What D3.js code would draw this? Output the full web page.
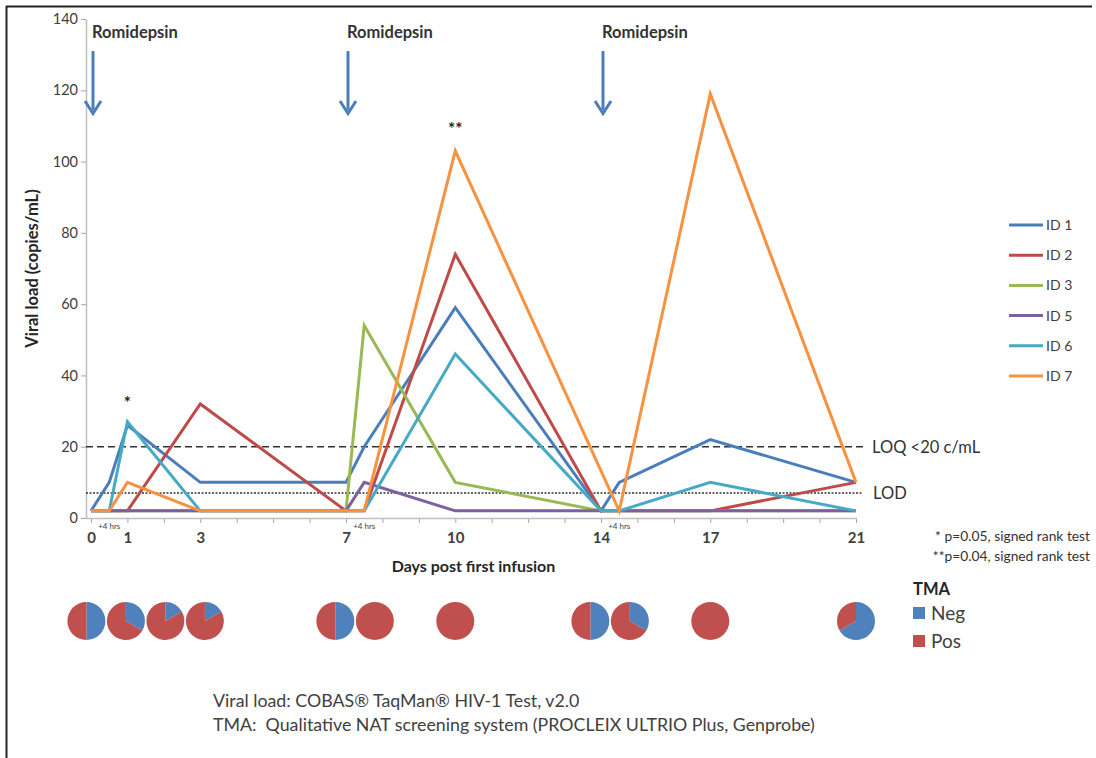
<!DOCTYPE html>
<html>
<head>
<meta charset="utf-8">
<script src="https://cdn.jsdelivr.net/npm/d3@7"></script>
<style>
  html, body { margin: 0; padding: 0; background: #fff; }
  svg { display: block; font-family: Lato, "Open Sans", sans-serif; }
</style>
</head>
<body>
<svg id="chart" width="1096" height="758"></svg>
<script>
// ---- data ----
// Sampling timepoints in days (the +4 hrs draws sit half a day after each infusion)
const days = [0, 0.5, 1, 3, 7, 7.5, 10, 14, 14.5, 17, 21];
const dayTicks = [0, 1, 3, 7, 10, 14, 17, 21];
const yTicks = [0, 20, 40, 60, 80, 100, 120, 140];
const infusionDays = [0, 7, 14];
const plus4Days = [0.5, 7.5, 14.5];

const seriesNames = ["ID 1", "ID 2", "ID 3", "ID 5", "ID 6", "ID 7"];
const id1 = [2, 10, 26, 10, 10, 20, 59, 2, 10, 22, 10];
const id2 = [2, 2, 2, 32, 2, 2, 74, 2, 2, 2, 10];
const id3 = [2, 2, 2, 2, 2, 54, 10, 2, 2, 2, 2];
const id5 = [2, 2, 2, 2, 2, 10, 2, 2, 2, 2, 2];
const id6 = [2, 2, 27, 2, 2, 2, 46, 2, 2, 10, 2];
const id7 = [2, 2, 10, 2, 2, 2, 103, null, 2, 119, 10];

const loq = 20;
const lod = 7;

// TMA result counts per timepoint (six participants)
const tmaNeg = [3, 2, 1, 1, 3, 0, 0, 3, 2, 0, 4];
const tmaPos = [3, 4, 5, 5, 3, 6, 6, 3, 4, 6, 2];

// significance marks
const sigDays = [1, 10];
const sigLabels = ["*", "**"];
const sigValues = [33, 110];

// ---- styling ----
const lineColors = ["#4a7ebb", "#be4b48", "#98b954", "#7d60a0", "#46aac5", "#f69240"];
const negColor = "#4f81bd", posColor = "#c0504d";
const textColor = "#404040";

const svg = d3.select("#chart");

// outer frame (top and left rules)
svg.append("line").attr("x1", 6).attr("x2", 1092).attr("y1", 6.5).attr("y2", 6.5)
  .attr("stroke", "#222").attr("stroke-width", 2);
svg.append("line").attr("x1", 6.5).attr("x2", 6.5).attr("y1", 6).attr("y2", 758)
  .attr("stroke", "#222").attr("stroke-width", 2);

const x = d3.scaleLinear().domain([0, 21]).range([91, 856]);
const y = d3.scaleLinear().domain([0, 140]).range([518, 19]);
const axisX = x(0) - 5;

// ---- y axis ----
const yAxis = d3.axisLeft(y).tickValues(yTicks).tickSize(5).tickSizeOuter(0).tickPadding(3);
const gy = svg.append("g").attr("transform", `translate(${axisX},0)`).call(yAxis);
gy.select(".domain").attr("stroke", "#bfbfbf").attr("stroke-width", 1.5);
gy.selectAll(".tick line").attr("stroke", "#a6a6a6");
gy.selectAll(".tick text").attr("fill", textColor).attr("font-size", 14.5)
  .attr("font-family", "Lato, sans-serif");

// ---- x axis ----
const xAxis = d3.axisBottom(x).tickValues(d3.range(0, 22)).tickSize(5).tickSizeOuter(0)
  .tickFormat(d => dayTicks.includes(d) ? d : "").tickPadding(9);
const gx = svg.append("g").attr("transform", `translate(0,${y(0)})`).call(xAxis);
gx.select(".domain").remove();
gx.selectAll(".tick line").attr("stroke", "#a6a6a6");
gx.selectAll(".tick text").attr("fill", textColor).attr("font-size", 15)
  .attr("font-weight", "bold").attr("font-family", "Lato, sans-serif");
svg.append("line").attr("x1", axisX).attr("x2", x(21) + 1)
  .attr("y1", y(0) + 0.5).attr("y2", y(0) + 0.5)
  .attr("stroke", "#bfbfbf").attr("stroke-width", 1.5);

// "+4 hrs" markers under the axis
svg.selectAll("text.plus4").data(plus4Days).join("text")
  .attr("class", "plus4")
  .attr("x", d => x(d)).attr("y", y(0) + 11)
  .attr("text-anchor", "middle").attr("font-size", 8).attr("fill", textColor)
  .text("+4 hrs");

// axis titles
svg.append("text").attr("x", x(10.5)).attr("y", 572)
  .attr("text-anchor", "middle").attr("font-size", 16).attr("font-weight", "bold")
  .attr("fill", "#262626").text("Days post first infusion");
svg.append("text").attr("transform", `translate(38,${y(70)}) rotate(-90)`)
  .attr("text-anchor", "middle").attr("font-size", 16.5).attr("font-weight", "bold")
  .attr("fill", "#262626").text("Viral load (copies/mL)");

// ---- reference lines ----
svg.append("line").attr("x1", axisX).attr("x2", x(21) + 7)
  .attr("y1", y(loq)).attr("y2", y(loq))
  .attr("stroke", "#333").attr("stroke-width", 1.6).attr("stroke-dasharray", "7,4");
svg.append("line").attr("x1", axisX).attr("x2", x(21) + 7)
  .attr("y1", y(lod)).attr("y2", y(lod))
  .attr("stroke", "#333").attr("stroke-width", 1.6).attr("stroke-dasharray", "2,1.5");
svg.append("text").attr("x", x(21) + 16).attr("y", y(loq) + 6)
  .attr("font-size", 16.5).attr("fill", "#333").text("LOQ <20 c/mL");
svg.append("text").attr("x", x(21) + 17).attr("y", y(lod) + 6)
  .attr("font-size", 16.5).attr("fill", "#333").text("LOD");

// ---- series lines ----
const allSeries = [id1, id2, id3, id5, id6, id7];
const line = d3.line()
  .defined(d => d.v != null)
  .x(d => x(d.day)).y(d => y(d.v));
allSeries.forEach((vals, i) => {
  const pts = days.map((d, j) => ({ day: d, v: vals[j] })).filter(p => p.v != null);
  svg.append("path").datum(pts)
    .attr("d", line)
    .attr("fill", "none").attr("stroke", lineColors[i])
    .attr("stroke-width", 3).attr("stroke-linejoin", "miter");
});

// significance marks
svg.selectAll("text.sig").data(sigDays).join("text")
  .attr("class", "sig")
  .attr("x", d => x(d)).attr("y", (d, i) => y(sigValues[i]) + 9)
  .attr("text-anchor", "middle").attr("font-size", 17).attr("font-weight", "bold")
  .attr("fill", "#262626").text((d, i) => sigLabels[i]);

// ---- infusion arrows ----
const arrowColor = "#4a7ebb";
infusionDays.forEach(d => {
  const ax = x(d) + 2;
  svg.append("text").attr("x", ax - 1).attr("y", 38)
    .attr("font-size", 16.5).attr("font-weight", "bold").attr("fill", "#333")
    .text("Romidepsin");
  svg.append("line").attr("x1", ax).attr("x2", ax).attr("y1", y(131)).attr("y2", y(114.5))
    .attr("stroke", arrowColor).attr("stroke-width", 3);
  svg.append("path")
    .attr("d", `M${ax - 8},${y(117)} L${ax},${y(113.5)} L${ax + 8},${y(117)}`)
    .attr("fill", "none").attr("stroke", arrowColor).attr("stroke-width", 3)
    .attr("stroke-linejoin", "miter");
});

// ---- legend ----
const legend = svg.append("g");
seriesNames.forEach((n, i) => {
  const ly = 225 + i * 30.2;
  legend.append("line").attr("x1", 1009).attr("x2", 1043).attr("y1", ly).attr("y2", ly)
    .attr("stroke", lineColors[i]).attr("stroke-width", 3);
  legend.append("text").attr("x", 1046).attr("y", ly + 5)
    .attr("font-size", 14).attr("fill", textColor).text(n);
});

// p-value notes
svg.append("text").attr("x", 1090).attr("y", 541).attr("text-anchor", "end")
  .attr("font-size", 13.8).attr("fill", "#333").text("* p=0.05, signed rank test");
svg.append("text").attr("x", 1090).attr("y", 561).attr("text-anchor", "end")
  .attr("font-size", 13.8).attr("fill", "#333").text("**p=0.04, signed rank test");

// ---- TMA pies ----
// Pies follow the timepoints; neighbours that would collide are packed side by side
// and the packed run is centred on the span of its timepoints.
const pieR = 19, pieGap = 39.5;
const pieX = days.map(d => x(d));
{
  let start = 0;
  for (let i = 1; i <= days.length; i++) {
    if (i === days.length || days[i] - days[i - 1] > 2) {
      const n = i - start;
      const mid = (pieX[start] + pieX[i - 1]) / 2;
      for (let k = 0; k < n; k++) pieX[start + k] = mid + (k - (n - 1) / 2) * pieGap;
      start = i;
    }
  }
}
const pie = d3.pie().sort(null).value(d => d.v);
const arc = d3.arc().innerRadius(0).outerRadius(pieR);
const pieY = 621;
days.forEach((d, i) => {
  const g = svg.append("g").attr("transform", `translate(${pieX[i]},${pieY})`);
  const slices = pie([{ k: "Neg", v: tmaNeg[i] }, { k: "Pos", v: tmaPos[i] }]);
  g.selectAll("path").data(slices.filter(s => s.data.v > 0)).join("path")
    .attr("d", arc)
    .attr("fill", s => s.data.k === "Neg" ? negColor : posColor);
});

// TMA legend
svg.append("text").attr("x", 913).attr("y", 595).attr("font-size", 16.5)
  .attr("font-weight", "bold").attr("fill", "#262626").text("TMA");
[["Neg", negColor, 613], ["Pos", posColor, 641]].forEach(([t, c, cy]) => {
  svg.append("rect").attr("x", 913).attr("y", cy - 6).attr("width", 12).attr("height", 12).attr("fill", c);
  svg.append("text").attr("x", 931).attr("y", cy + 7).attr("font-size", 19)
    .attr("fill", textColor).text(t);
});

// assay notes
svg.append("text").attr("x", 213).attr("y", 707).attr("font-size", 17.8)
  .attr("fill", textColor).text("Viral load: COBAS® TaqMan® HIV-1 Test, v2.0");
svg.append("text").attr("x", 213).attr("y", 731).attr("font-size", 17.8)
  .attr("fill", textColor).attr("xml:space", "preserve")
  .text("TMA:  Qualitative NAT screening system (PROCLEIX ULTRIO Plus, Genprobe)");
</script>
</body>
</html>
